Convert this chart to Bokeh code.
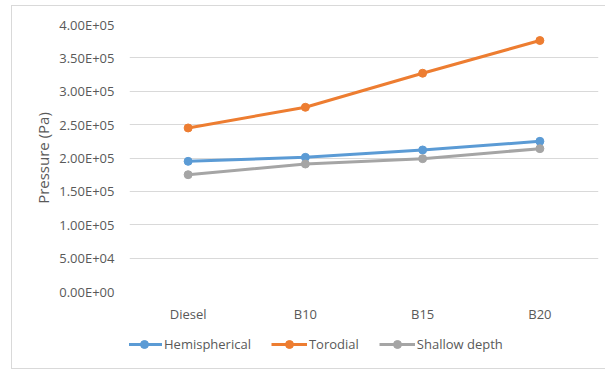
from bokeh.plotting import figure
from bokeh.layouts import column
from bokeh.models import ColumnDataSource, Legend, LegendItem, FixedTicker, CustomJSTickFormatter
from bokeh.embed import file_html
from bokeh.resources import INLINE

categories = ["Diesel", "B10", "B15", "B20"]
hemispherical = [1.95e5, 2.01e5, 2.12e5, 2.25e5]
torodial = [2.45e5, 2.76e5, 3.27e5, 3.76e5]
shallow_depth = [1.75e5, 1.91e5, 1.99e5, 2.14e5]
y_ticks = [0, 5e4, 1e5, 1.5e5, 2e5, 2.5e5, 3e5, 3.5e5, 4e5]

FONT = "Open Sans"
TEXT = "#595959"

src = ColumnDataSource(dict(cat=categories, hemi=hemispherical, toro=torodial, shal=shallow_depth))

p = figure(width=594, height=319, x_range=categories, y_range=(0, 4e5),
           output_backend="svg", toolbar_location=None,
           min_border_left=117, min_border_right=8, min_border_top=18, min_border_bottom=34)
p.outline_line_color = None
p.background_fill_color = "white"
p.border_fill_color = "white"

p.xgrid.grid_line_color = None
p.ygrid.grid_line_color = "#d9d9d9"
p.ygrid.grid_line_width = 1
p.yaxis.ticker = FixedTicker(ticks=y_ticks)
p.yaxis.formatter = CustomJSTickFormatter(code="""
    const e = tick === 0 ? 0 : Math.floor(Math.log10(Math.abs(tick)));
    const m = tick / Math.pow(10, e);
    const s = e < 0 ? '-' : '+';
    return m.toFixed(2) + 'E' + s + String(Math.abs(e)).padStart(2, '0');
""")
for ax in (p.xaxis[0], p.yaxis[0]):
    ax.axis_line_color = None
    ax.major_tick_line_color = None
    ax.minor_tick_line_color = None
    ax.major_label_text_font = FONT
    ax.major_label_text_font_size = "13px"
    ax.major_label_text_color = TEXT
p.yaxis.major_label_standoff = 9
p.xaxis.major_label_standoff = 7
p.yaxis.axis_label = "Pressure (Pa)"
p.yaxis.axis_label_text_font = FONT
p.yaxis.axis_label_text_font_size = "15px"
p.yaxis.axis_label_text_font_style = "normal"
p.yaxis.axis_label_text_color = TEXT
p.yaxis.axis_label_standoff = 3

series = [("hemi", "Hemispherical", "#5B9BD5"),
          ("toro", "Torodial", "#ED7D31"),
          ("shal", "Shallow depth", "#A5A5A5")]

# Legend strip under the chart, sharing the same series styling
leg = figure(width=594, height=43, x_range=(0, 1), y_range=(0, 1),
             output_backend="svg", toolbar_location=None,
             min_border_left=0, min_border_right=0, min_border_top=0, min_border_bottom=0)
leg.axis.visible = False
leg.grid.visible = False
leg.outline_line_color = None
leg.border_fill_color = "white"

# placeholder points outside the visible range, only used as legend swatches
offscreen = ColumnDataSource(dict(x=[-10], y=[-10]))
items = []
for key, name, color in series:
    p.line("cat", key, source=src, line_color=color, line_width=3)
    p.scatter("cat", key, source=src, size=8, fill_color=color, line_color=color)
    l1 = leg.line("x", "y", source=offscreen, line_color=color, line_width=3)
    l2 = leg.scatter("x", "y", source=offscreen, size=8, fill_color=color, line_color=color)
    items.append(LegendItem(label=name, renderers=[l1, l2]))

legend = Legend(items=items, orientation="horizontal", location=(-3, 14))
legend.label_text_font = FONT
legend.label_text_font_size = "13px"
legend.label_text_color = TEXT
legend.glyph_width = 36
legend.glyph_height = 20
legend.label_height = 20
legend.label_standoff = 2
legend.spacing = 20
legend.padding = 0
legend.margin = 0
legend.border_line_color = None
legend.background_fill_alpha = 0
leg.add_layout(legend)

layout = column(p, leg, spacing=0)
layout.margin = (6, 0, 0, 12)
layout.styles = {"outline": "1px solid #d9d9d9"}

open("out.html", "w").write(file_html(layout, INLINE))
